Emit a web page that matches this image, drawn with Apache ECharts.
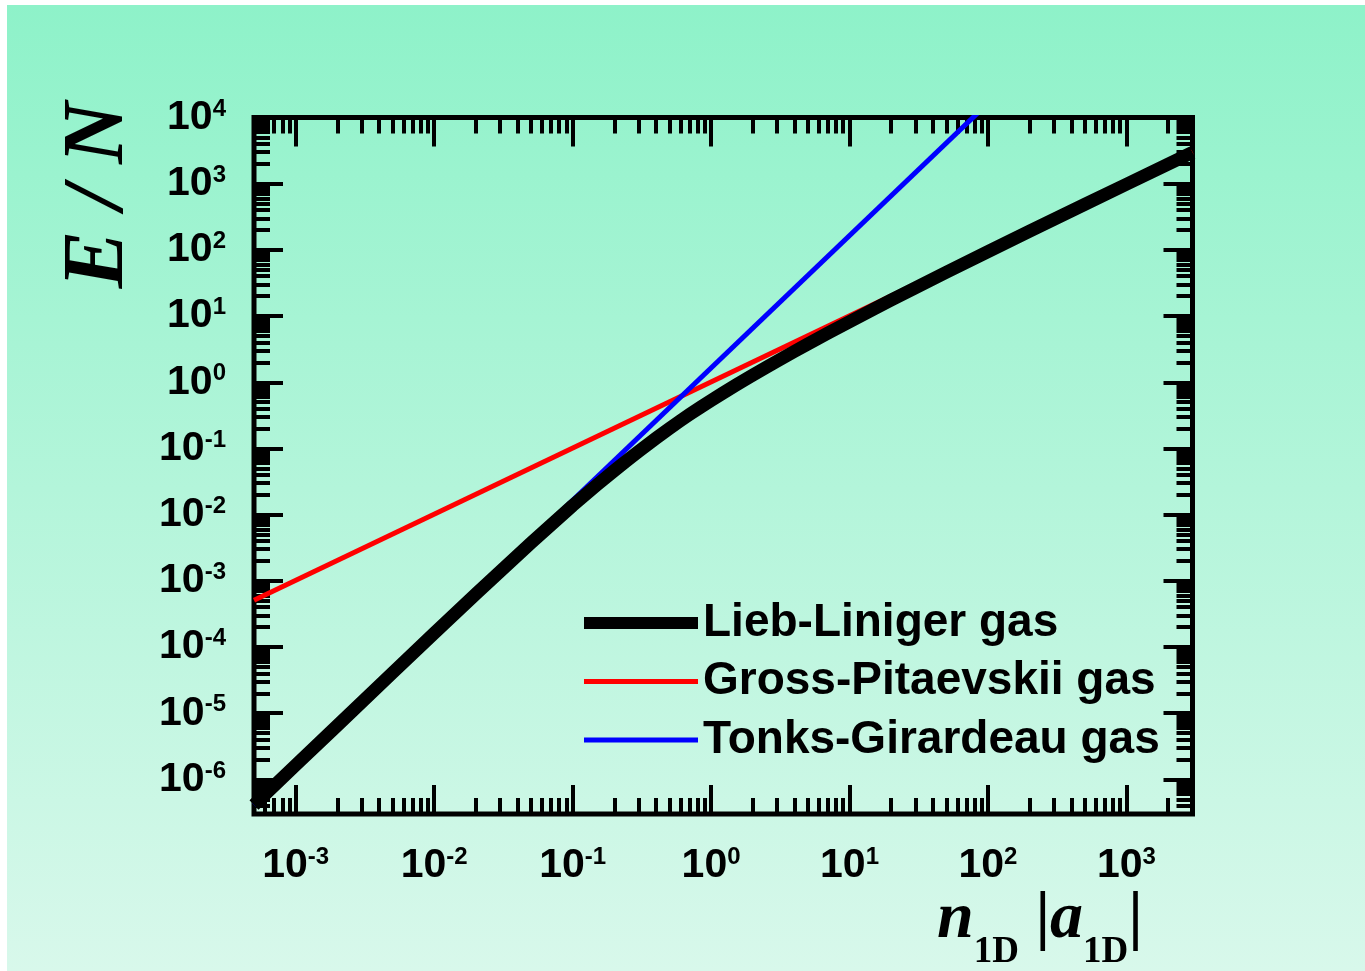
<!DOCTYPE html>
<html>
<head>
<meta charset="utf-8">
<script src="https://cdn.jsdelivr.net/npm/echarts@6/dist/echarts.min.js"></script>
<style>
  html, body { margin: 0; padding: 0; background: #ffffff; }
  #bg { position: absolute; left: 7px; top: 5px; width: 1358px; height: 966px;
        background: linear-gradient(to bottom, #8EF2C9, #D8F8EB); }
  #chart { position: absolute; left: 0; top: 0; width: 1365px; height: 971px; }
</style>
</head>
<body>
<div id="bg"></div>
<div id="chart"></div>
<script>
// Ground-state energy per particle of a 1D Bose gas versus n1D|a1D|

const seriesNames = ['Lieb-Liniger gas', 'Gross-Pitaevskii gas', 'Tonks-Girardeau gas'];

// Lieb-Liniger (exact) curve
const llX = [5e-4, 1e-3, 2e-3, 5e-3, 1e-2, 2e-2, 5e-2, 0.1, 0.15, 0.2, 0.25, 0.3, 0.4, 0.5, 0.6, 0.7, 0.85,
             1, 1.2, 1.5, 1.7, 2, 2.5, 3, 4, 5, 7, 10, 15, 20, 30, 50, 100, 200, 500, 1000, 3000];
const llY = [4.1e-7, 1.64e-6, 6.5e-6, 4.07e-5, 1.61e-4, 6.3e-4, 3.73e-3, 0.0137, 0.0282, 0.0462, 0.0672, 0.0906, 0.1428, 0.2005, 0.2625, 0.3268, 0.427,
             0.531, 0.673, 0.896, 1.048, 1.282, 1.682, 2.091, 2.931, 3.789, 5.543, 8.233, 12.81, 17.45, 26.84, 45.89, 94.13, 191.6, 486.7, 981.2, 2967];

// Gross-Pitaevskii (weak coupling) line
const gpX = [5e-4, 3e3];
const gpY = [5.1e-4, 3e3];

// Tonks-Girardeau (hard core) line
const tgX = [5e-4, 100];
const tgY = [4.1e-7, 16450];

// axis ranges and labelled decades
const xRange = [5e-4, 3e3];
const yRange = [3e-7, 1e4];
const xMajor = [1e-3, 1e-2, 1e-1, 1, 10, 100, 1000];
const yMajor = [1e-6, 1e-5, 1e-4, 1e-3, 1e-2, 1e-1, 1, 10, 100, 1000, 1e4];

// 2..9 sub-decade positions inside a range
function minorTicks(lo, hi) {
  const out = [];
  const d0 = Math.floor(Math.log10(lo));
  const d1 = Math.ceil(Math.log10(hi));
  for (let d = d0; d <= d1; d++) {
    for (let k = 2; k <= 9; k++) {
      const v = k * Math.pow(10, d);
      if (v > lo * 1.0001 && v < hi * 0.9999) out.push(v);
    }
  }
  return out;
}
const xMinor = minorTicks(xRange[0], xRange[1]);
const yMinor = minorTicks(yRange[0], yRange[1]);

const SANS = "'Liberation Sans', Arial, sans-serif";
const SERIF = "'Liberation Serif', 'Times New Roman', serif";

const labelRich = {
  b: { fontFamily: SANS, fontWeight: 'bold', fontSize: 41, lineHeight: 41, color: '#000' },
  s: { fontFamily: SANS, fontWeight: 'bold', fontSize: 24, lineHeight: 14, verticalAlign: 'top', color: '#000' }
};
function powLabel(v) {
  return '{b|10}{s|' + Math.round(Math.log10(v)) + '}';
}

function logAxis(range, position, ticks, len, labels, margin) {
  return {
    type: 'log',
    logBase: 10,
    min: range[0],
    max: range[1],
    position: position,
    axisLine: { show: false },
    splitLine: { show: false },
    minorTick: { show: false },
    minorSplitLine: { show: false },
    axisTick: {
      show: true, inside: true, length: len, customValues: ticks,
      lineStyle: { color: '#000', width: 4 }
    },
    axisLabel: labels
      ? { show: true, customValues: labels, formatter: powLabel, rich: labelRich, margin: margin }
      : { show: false }
  };
}

function pairs(xs, ys) {
  return xs.map((x, i) => [x, ys[i]]);
}

const chart = echarts.init(document.getElementById('chart'), null, { renderer: 'canvas' });

chart.setOption({
  animation: false,
  grid: {
    left: 254, top: 117.5, right: 172.5, bottom: 157,
    show: true, borderColor: '#000', borderWidth: 5, backgroundColor: 'transparent',
    containLabel: false, outerBoundsMode: 'none'
  },
  xAxis: [
    logAxis(xRange, 'bottom', xMajor, 29, xMajor, 31),
    logAxis(xRange, 'top', xMajor, 29, null),
    logAxis(xRange, 'bottom', xMinor, 16, null),
    logAxis(xRange, 'top', xMinor, 16, null)
  ],
  yAxis: [
    logAxis(yRange, 'left', yMajor, 29, yMajor, 28),
    logAxis(yRange, 'right', yMajor, 29, null),
    logAxis(yRange, 'left', yMinor, 16, null),
    logAxis(yRange, 'right', yMinor, 16, null)
  ],
  legend: {
    orient: 'vertical',
    left: 578, top: 600,
    itemWidth: 114, itemHeight: 13, itemGap: 12.5,
    padding: 0,
    selectedMode: false,
    itemStyle: { opacity: 0 },
    data: [
      { name: seriesNames[0], lineStyle: { width: 12 } },
      { name: seriesNames[1], lineStyle: { width: 5 } },
      { name: seriesNames[2], lineStyle: { width: 5 } }
    ],
    textStyle: { fontFamily: SANS, fontWeight: 'bold', fontSize: 46, lineHeight: 46, color: '#000' }
  },
  series: [
    {
      name: seriesNames[1], type: 'line', data: pairs(gpX, gpY),
      symbol: 'none', showSymbol: false, clip: true,
      itemStyle: { color: '#ff0000' }, lineStyle: { color: '#ff0000', width: 5 }
    },
    {
      name: seriesNames[2], type: 'line', data: pairs(tgX, tgY),
      symbol: 'none', showSymbol: false, clip: true,
      itemStyle: { color: '#0000ff' }, lineStyle: { color: '#0000ff', width: 5 }
    },
    {
      name: seriesNames[0], type: 'line', data: pairs(llX, llY),
      symbol: 'none', showSymbol: false, clip: true,
      itemStyle: { color: '#000000' }, lineStyle: { color: '#000000', width: 13, join: 'round' }
    }
  ],
  graphic: [
    {
      type: 'text', x: 100, y: 195, rotation: Math.PI / 2,
      style: {
        text: 'E / N',
        font: 'italic bold 86px ' + SERIF,
        fill: '#000',
        align: 'center', verticalAlign: 'middle',
        textAlign: 'center', textVerticalAlign: 'middle'
      }
    },
    {
      type: 'text', x: 937, y: 887,
      style: {
        text: '{i|n}{s|1D}{m| |}{i|a}{s|1D}{m||}',
        fill: '#000',
        align: 'left', verticalAlign: 'top',
        textAlign: 'left', textVerticalAlign: 'top',
        rich: {
          i: { fontFamily: SERIF, fontStyle: 'italic', fontWeight: 'bold', fontSize: 66, lineHeight: 66, verticalAlign: 'top', fill: '#000' },
          s: { fontFamily: SERIF, fontWeight: 'bold', fontSize: 37, lineHeight: 37, padding: [47, 0, 0, 0], verticalAlign: 'top', fill: '#000' },
          m: { fontFamily: SERIF, fontWeight: 'bold', fontSize: 66, lineHeight: 66, verticalAlign: 'top', fill: '#000' }
        }
      }
    }
  ]
});
</script>
</body>
</html>
